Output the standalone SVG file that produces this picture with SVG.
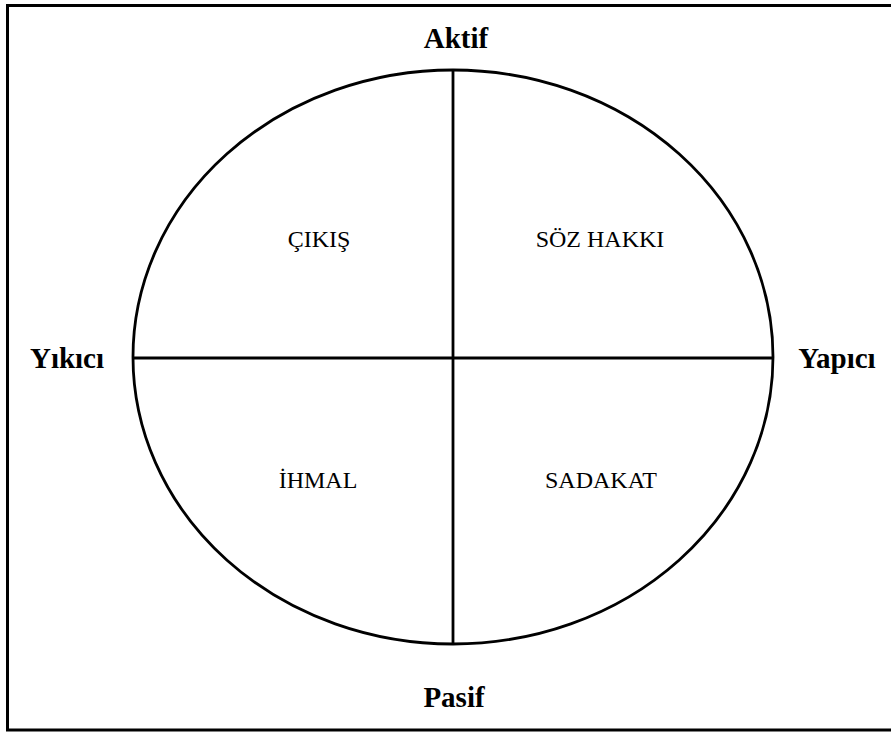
<svg xmlns="http://www.w3.org/2000/svg" width="891" height="732" viewBox="0 0 891 732">
  <style>
    .frame { fill: none; stroke: #000; stroke-width: 3; }
    .shape { fill: none; stroke: #000; stroke-width: 2.8; }
    .axis { font-family: "Liberation Serif", "Times New Roman", serif; font-size: 29px; font-weight: bold; fill: #000; text-anchor: middle; }
    .quad { font-family: "Liberation Serif", "Times New Roman", serif; font-size: 24px; fill: #000; text-anchor: middle; }
  </style>
  <rect width="891" height="732" fill="#fff"/>
  <!-- outer frame: left, top and bottom edges -->
  <path class="frame" d="M891,5.5 H7.5 V730 H891"/>

  <g id="circle">
    <ellipse class="shape" cx="453" cy="357" rx="320" ry="287"/>
  </g>
  <g id="connectors">
    <line class="shape" x1="453" y1="70" x2="453" y2="644"/>
    <line class="shape" x1="133" y1="358" x2="773" y2="358"/>
  </g>

  <g id="aktif"><text class="axis" x="456" y="48">Aktif</text></g>
  <g id="pasif"><text class="axis" x="454" y="707">Pasif</text></g>
  <g id="yikici"><text class="axis" x="67" y="368">Yıkıcı</text></g>
  <g id="yapici"><text class="axis" x="837" y="368">Yapıcı</text></g>

  <g id="cikis"><text class="quad" x="319" y="247">ÇIKIŞ</text></g>
  <g id="soz-hakki"><text class="quad" x="600" y="247">SÖZ HAKKI</text></g>
  <g id="ihmal"><text class="quad" x="318" y="488">İHMAL</text></g>
  <g id="sadakat"><text class="quad" x="601" y="488">SADAKAT</text></g>
</svg>
